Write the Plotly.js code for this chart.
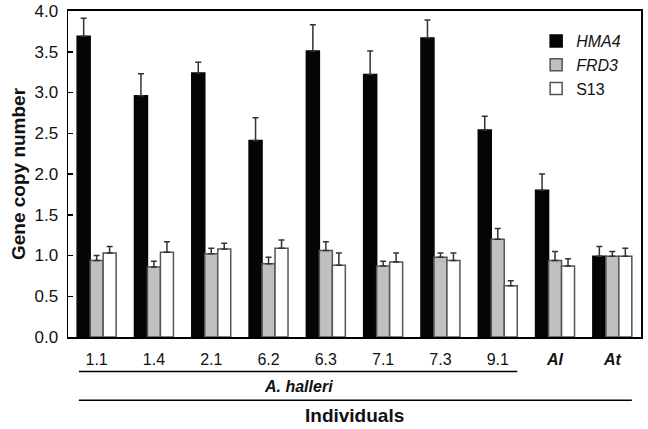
<!DOCTYPE html>
<html>
<head>
<meta charset="utf-8">
<script src="https://cdn.plot.ly/plotly-3.0.1.min.js"></script>
<style>html,body{margin:0;padding:0;background:#fff;}#chart{width:648px;height:429px;}</style>
</head>
<body>
<div id="chart"></div>
<script>
const categories = ["1.1","1.4","2.1","6.2","6.3","7.1","7.3","9.1","Al","At"];
const tickLabels = ["1.1","1.4","2.1","6.2","6.3","7.1","7.3","9.1","<b><i>Al</i></b>","<b><i>At</i></b>"];
const hma4 = [3.69,2.96,3.24,2.41,3.51,3.22,3.67,2.54,1.80,0.99];
const hma4Err = [0.22,0.27,0.13,0.28,0.32,0.29,0.22,0.17,0.20,0.12];
const frd3 = [0.94,0.86,1.02,0.90,1.06,0.87,0.98,1.20,0.94,0.99];
const frd3Err = [0.06,0.07,0.07,0.08,0.11,0.06,0.05,0.13,0.11,0.06];
const s13 = [1.03,1.04,1.08,1.09,0.88,0.92,0.94,0.63,0.87,0.99];
const s13Err = [0.08,0.13,0.07,0.10,0.15,0.11,0.09,0.06,0.09,0.10];
const yTicks = [0,0.5,1,1.5,2,2.5,3,3.5,4];

const zeros = categories.map(() => 0);
function bar(name, y, err, fill, line) {
  return {
    type: 'bar', name: name, x: categories, y: y,
    marker: {color: fill, line: {color: line, width: 1.5}},
    error_y: {type: 'data', array: err, arrayminus: zeros, symmetric: false,
              color: '#333', thickness: 1.5, width: 3}
  };
}
const data = [
  bar('<i>HMA4</i>', hma4, hma4Err, '#050505', '#050505'),
  bar('<i>FRD3</i>', frd3, frd3Err, '#c0c0c0', '#555555'),
  bar('S13', s13, s13Err, '#ffffff', '#555555')
];
const font = 'Liberation Sans, Arial, sans-serif';
const layout = {
  width: 648, height: 429,
  margin: {l: 68, r: 7, t: 11, b: 92},
  paper_bgcolor: '#fff', plot_bgcolor: '#fff',
  barmode: 'group', bargap: 0.32, bargroupgap: 0,
  font: {family: font, size: 15, color: '#111'},
  showlegend: true,
  legend: {x: 0.817, y: 0.96, xanchor: 'left', yanchor: 'top', bgcolor: 'rgba(0,0,0,0)',
           font: {size: 16, family: font, color: '#111'}, tracegroupgap: 0, traceorder: 'normal',
           itemwidth: 30},
  xaxis: {
    type: 'category', tickvals: categories, ticktext: tickLabels,
    showline: true, linecolor: '#000', linewidth: 2, mirror: true,
    ticks: '', showgrid: false, zeroline: false, ticklabelstandoff: 7,
    tickfont: {size: 16, family: font, color: '#111'}
  },
  yaxis: {
    range: [0, 4], tickvals: yTicks, tickformat: '.1f',
    showline: true, linecolor: '#000', linewidth: 1.5, mirror: true,
    ticks: 'inside', ticklen: 5, tickcolor: '#000', tickwidth: 1.5,
    showgrid: false, zeroline: false, ticklabelstandoff: 5,
    tickfont: {size: 17, family: font, color: '#111'},
    title: {text: '<b>Gene copy number</b>', font: {size: 19, family: font, color: '#111'}, standoff: 4}
  },
  shapes: [
    {type: 'line', xref: 'paper', yref: 'paper', x0: 0.019, x1: 0.784, y0: -0.106, y1: -0.106,
     line: {color: '#000', width: 1.5}},
    {type: 'line', xref: 'paper', yref: 'paper', x0: 0.019, x1: 0.984, y0: -0.194, y1: -0.194,
     line: {color: '#000', width: 1.5}}
  ],
  annotations: [
    {text: '<b><i>A. halleri</i></b>', xref: 'paper', yref: 'paper', x: 0.4015, y: -0.152,
     xanchor: 'center', yanchor: 'middle', showarrow: false, font: {size: 16, family: font, color: '#111'}},
    {text: '<b>Individuals</b>', xref: 'paper', yref: 'paper', x: 0.5, y: -0.240,
     xanchor: 'center', yanchor: 'middle', showarrow: false, font: {size: 19, family: font, color: '#111'}}
  ]
};
Plotly.newPlot('chart', data, layout, {displayModeBar: false, staticPlot: true});
</script>
</body>
</html>
